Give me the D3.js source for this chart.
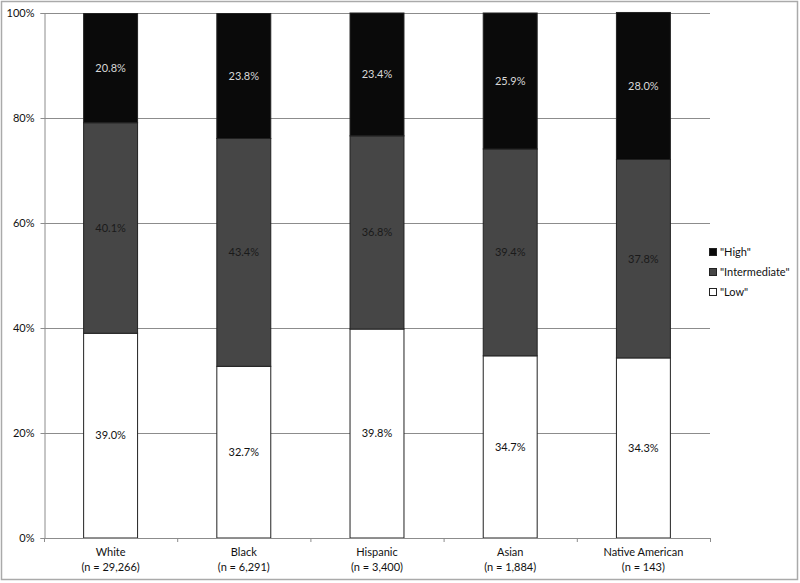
<!DOCTYPE html>
<html><head><meta charset="utf-8">
<script src="https://cdn.jsdelivr.net/npm/d3@7"></script>
<style>body{margin:0;background:#fff}svg{display:block}text{font-family:Lato,"Open Sans",sans-serif}</style>
</head><body>
<svg id="c" width="800" height="583"></svg>
<script>
const categories = ["White","Black","Hispanic","Asian","Native American"];
const sampleSizes = ["(n = 29,266)","(n = 6,291)","(n = 3,400)","(n = 1,884)","(n = 143)"];
const lowValues = [39.0, 32.7, 39.8, 34.7, 34.3];
const intermediateValues = [40.1, 43.4, 36.8, 39.4, 37.8];
const highValues = [20.8, 23.8, 23.4, 25.9, 28.0];
const seriesNames = ['"Low"', '"Intermediate"', '"High"'];
const yTicks = [0, 20, 40, 60, 80, 100];

const svg = d3.select("#c");
const pLeft = 44, pRight = 710, pTop = 13, pBottom = 538;
const x = d3.scaleBand().domain(categories).range([pLeft, pRight]).paddingInner(0.595).paddingOuter(0.2975);
const xOuter = d3.scaleBand().domain(categories).range([pLeft, pRight]);
const y = d3.scaleLinear().domain([0, 100]).range([pBottom, pTop]);

svg.append("rect").attr("x",1.5).attr("y",1.5).attr("width",796).attr("height",578)
  .attr("fill","none").attr("stroke","#aaa").attr("stroke-width",1.5);

// gridlines
svg.append("g").selectAll("line").data(yTicks.filter(d=>d>0)).join("line")
  .attr("x1",pLeft).attr("x2",pRight).attr("y1",d=>Math.round(y(d))+0.5).attr("y2",d=>Math.round(y(d))+0.5)
  .attr("stroke","#8c8c8c").attr("stroke-width",1);

const data = categories.map((c,i)=>({cat:c, Low:lowValues[i], Intermediate:intermediateValues[i], High:highValues[i]}));
const keys = ["Low","Intermediate","High"];
const stack = d3.stack().keys(keys)(data);
const fills = {Low:"#ffffff", Intermediate:"#464646", High:"#0a0a0a"};
const textFill = {Low:"#111", Intermediate:"#1a1a1a", High:"#d8d8d8"};

stack.forEach(s=>{
  const g = svg.append("g");
  g.selectAll("rect").data(s).join("rect")
    .attr("x",d=>x(d.data.cat)).attr("width",x.bandwidth())
    .attr("y",d=>y(d[1])).attr("height",d=>y(d[0])-y(d[1]))
    .attr("fill",fills[s.key]).attr("stroke","#222").attr("stroke-width",1);
  g.selectAll("text").data(s).join("text")
    .attr("x",d=>x(d.data.cat)+x.bandwidth()/2).attr("y",d=>(y(d[0])+y(d[1]))/2)
    .attr("dy","0.35em").attr("text-anchor","middle").attr("font-size",11)
    .attr("fill",textFill[s.key]).text(d=>(d.data[s.key]).toFixed(1)+"%");
});

// y axis
const yAxis = d3.axisLeft(y).tickValues(yTicks).tickFormat(d=>d+"%").tickSize(4).tickPadding(6);
const ya = svg.append("g").attr("transform",`translate(${pLeft+0.5},0)`).call(yAxis);
ya.select(".domain").attr("stroke","#8c8c8c");
ya.selectAll(".tick line").attr("stroke","#8c8c8c");
ya.selectAll("text").attr("font-size",11).attr("fill","#111").attr("font-family","Lato,sans-serif");

// x axis
svg.append("line").attr("x1",pLeft).attr("x2",pRight).attr("y1",pBottom+0.5).attr("y2",pBottom+0.5).attr("stroke","#8c8c8c");
const bounds = categories.map(c=>xOuter(c)).concat([pRight]);
svg.append("g").selectAll("line").data(bounds).join("line")
  .attr("x1",d=>d+0.5).attr("x2",d=>d+0.5).attr("y1",pBottom).attr("y2",pBottom+4).attr("stroke","#8c8c8c");
const xl = svg.append("g").selectAll("text").data(categories).join("text")
  .attr("x",d=>xOuter(d)+xOuter.bandwidth()/2).attr("text-anchor","middle").attr("font-size",11).attr("fill","#111");
xl.append("tspan").attr("x",d=>xOuter(d)+xOuter.bandwidth()/2).attr("y",556).text(d=>d);
xl.append("tspan").attr("x",d=>xOuter(d)+xOuter.bandwidth()/2).attr("y",571).text((d,i)=>sampleSizes[i]);

// legend
const legendOrder = ["High","Intermediate","Low"];
const legendLabels = {High:seriesNames[2], Intermediate:seriesNames[1], Low:seriesNames[0]};
const lg = svg.append("g").selectAll("g").data(legendOrder).join("g")
  .attr("transform",(d,i)=>`translate(709,${248+i*20})`);
lg.append("rect").attr("x",0.5).attr("y",0.5).attr("width",7).attr("height",7)
  .attr("fill",d=>fills[d]).attr("stroke","#222");
lg.append("text").attr("x",11).attr("y",4).attr("dy","0.35em").attr("font-size",11).attr("fill","#111")
  .text(d=>legendLabels[d]);
</script>
</body></html>
